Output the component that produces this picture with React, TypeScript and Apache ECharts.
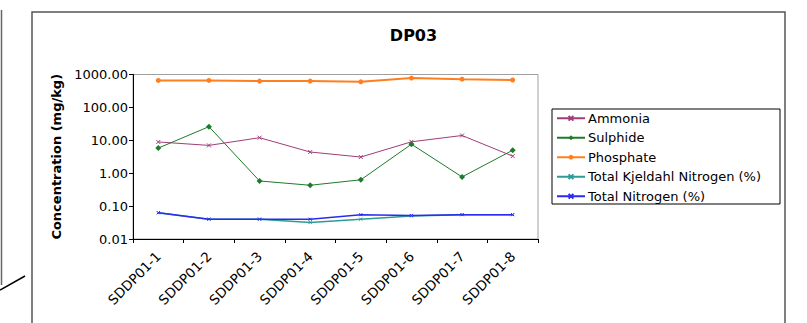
import React, { useEffect, useRef } from "react";
import * as echarts from "echarts";

const categories = ["SDDP01-1", "SDDP01-2", "SDDP01-3", "SDDP01-4", "SDDP01-5", "SDDP01-6", "SDDP01-7", "SDDP01-8"];
const ammonia = [8.9, 7.0, 12, 4.4, 3.1, 9.0, 14, 3.3];
const sulphide = [5.8, 26, 0.58, 0.43, 0.63, 7.6, 0.77, 5.0];
const phosphate = [660, 660, 630, 630, 600, 780, 720, 680];
const tkn = [0.063, 0.04, 0.04, 0.032, 0.04, 0.05, 0.055, 0.055];
const totalN = [0.063, 0.04, 0.04, 0.04, 0.055, 0.052, 0.055, 0.055];
const yTicks = [0.01, 0.1, 1, 10, 100, 1000];

const FONT = "DejaVu Sans";
const xSym = "path://M0,0L10,10M10,0L0,10";

export default function App() {
  const ref = useRef<HTMLDivElement>(null);
  useEffect(() => {
    const chart = echarts.init(ref.current!, null, { renderer: "svg" });
    const mk = (name: string, data: number[], color: string, symbol: string, size: number, width: number, stroke: boolean) => ({
      name,
      type: "line",
      data,
      symbol,
      symbolSize: size,
      showSymbol: true,
      lineStyle: { color, width },
      itemStyle: stroke ? { color, borderColor: color, borderWidth: 1 } : { color, borderWidth: 0 },
      emphasis: { disabled: true },
    });
    chart.setOption({
      animation: false,
      textStyle: { fontFamily: FONT },
      title: {
        text: "DP03",
        left: 408.5,
        top: 22,
        textAlign: "center",
        textStyle: { fontFamily: FONT, fontSize: 16, fontWeight: "bold", color: "#000" },
      },
      grid: { left: 133, top: 74.5, right: 269, bottom: 84, show: true, borderColor: "#a0a0a0", borderWidth: 1, backgroundColor: "transparent" },
      xAxis: {
        type: "category",
        data: categories,
        boundaryGap: true,
        axisLine: { lineStyle: { color: "#000", width: 1 } },
        axisTick: { show: true, length: 4, lineStyle: { color: "#000" }, alignWithLabel: false },
        axisLabel: { rotate: 45, fontFamily: FONT, fontSize: 13.5, color: "#000", interval: 0, margin: 15 },
        splitLine: { show: false },
      },
      yAxis: {
        type: "log",
        logBase: 10,
        min: 0.01,
        max: 1000,
        name: "Concentration (mg/kg)",
        nameLocation: "middle",
        nameGap: 69,
        nameTextStyle: { fontFamily: FONT, fontSize: 13, fontWeight: "bold", color: "#000" },
        axisLine: { show: true, lineStyle: { color: "#000", width: 1 } },
        axisTick: { show: true, length: 4, lineStyle: { color: "#000" } },
        axisLabel: {
          fontFamily: FONT,
          fontSize: 13,
          color: "#000",
          margin: 5,
          formatter: (v: number) => {
            const t = yTicks.find((x) => Math.abs(x - v) / x < 1e-6);
            return (t ?? v).toFixed(2);
          },
        },
        splitLine: { show: false },
        minorTick: { show: false },
      },
      legend: {
        orient: "vertical",
        left: 556,
        top: 108.5,
        padding: 0,
        itemWidth: 28,
        itemHeight: 6,
        itemGap: 0,
        textStyle: { fontFamily: FONT, fontSize: 13, color: "#000", lineHeight: 19.5, height: 19.5, padding: [0, 0, 0, -2] },
        data: ["Ammonia", "Sulphide", "Phosphate", "Total Kjeldahl Nitrogen (%)", "Total Nitrogen (%)"],
      },
      graphic: [
        { type: "rect", shape: { x: 32, y: 12, width: 753, height: 330 }, style: { fill: "none", stroke: "#555", lineWidth: 1.5 }, silent: true },
        { type: "rect", shape: { x: 552, y: 109, width: 228, height: 95 }, style: { fill: "none", stroke: "#000", lineWidth: 1 }, silent: true },
        { type: "line", shape: { x1: 1.5, y1: 10, x2: 1.5, y2: 285 }, style: { stroke: "#666", lineWidth: 1.5 }, silent: true },
        { type: "line", shape: { x1: 0, y1: 290, x2: 25, y2: 276 }, style: { stroke: "#000", lineWidth: 1.5 }, silent: true },
      ],
      series: [
        mk("Ammonia", ammonia, "#a03c78", xSym, 4, 1, true),
        mk("Sulphide", sulphide, "#1f7a2a", "diamond", 6, 1, false),
        mk("Phosphate", phosphate, "#ff7f20", "circle", 5, 2, false),
        mk("Total Kjeldahl Nitrogen (%)", tkn, "#2e9a9a", xSym, 3, 1.5, true),
        mk("Total Nitrogen (%)", totalN, "#2b2bf0", xSym, 3, 1.5, true),
      ],
    });
    return () => chart.dispose();
  }, []);
  return <div ref={ref} style={{ position: "fixed", left: 0, top: 0, width: 807, height: 323, background: "#fff" }} />;
}
